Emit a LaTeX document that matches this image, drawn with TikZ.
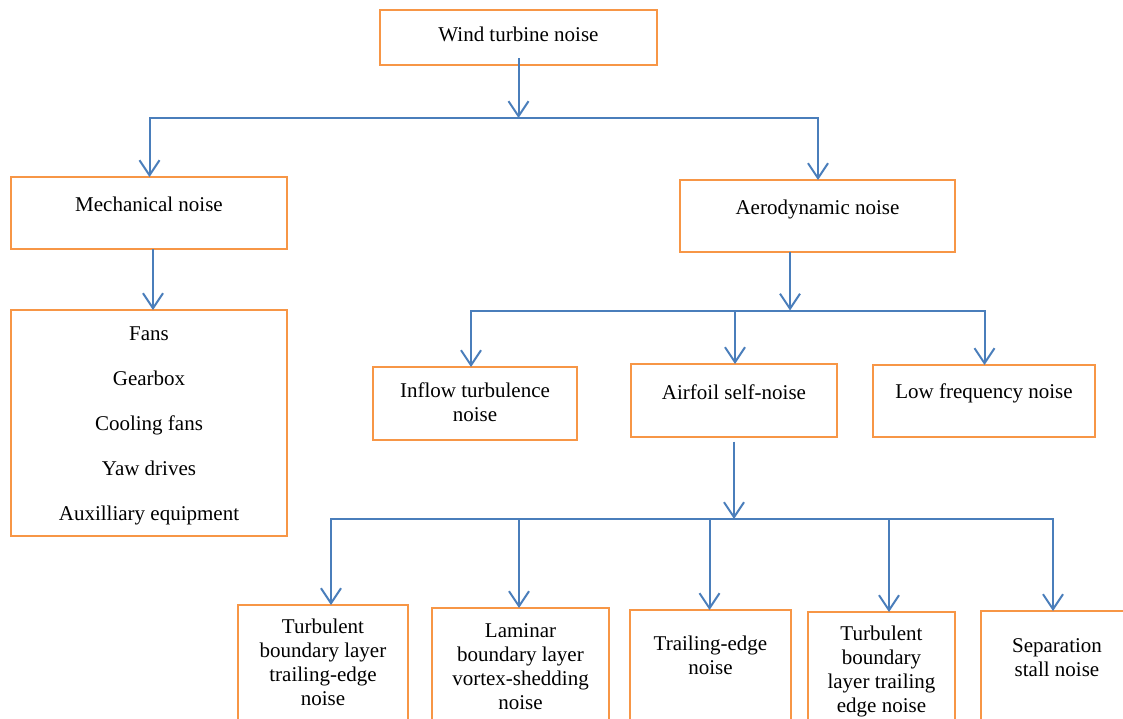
\documentclass[tikz,border=0pt]{standalone}
\usepackage{fontspec}
\setmainfont{Liberation Serif}
\usetikzlibrary{arrows.meta}
\definecolor{boxorange}{HTML}{F79646}
\definecolor{linkblue}{HTML}{4A7EBB}
\tikzset{
  box/.style={draw=boxorange, line width=2.2pt, rectangle, anchor=north west, inner sep=0pt, outer sep=0pt},
  txt/.style={anchor=base, inner sep=0pt, font=\fontsize{21}{24}\selectfont, text=black},
  bus/.style={draw=linkblue, line width=2pt, line cap=rect},
  arr/.style={draw=linkblue, line width=2pt, -{Straight Barb[length=15pt,width=20pt]}},
}
\begin{document}
\begin{tikzpicture}[x=1pt,y=-1pt]
\useasboundingbox (0,0) rectangle (1123,718);
\fill[white] (0,0) rectangle (1123,718);
\clip (0,0) rectangle (1123,718);

% boxes
\node[box, minimum width=277pt, minimum height=55pt] (wtn) at (380,10) {};
\node[box, minimum width=276pt, minimum height=72pt] (mech) at (11,177) {};
\node[box, minimum width=276pt, minimum height=226pt] (list) at (11,310) {};
\node[box, minimum width=275pt, minimum height=72pt] (aero) at (680,180) {};
\node[box, minimum width=204pt, minimum height=73pt] (inflow) at (373,367) {};
\node[box, minimum width=206pt, minimum height=73pt] (airfoil) at (631,364) {};
\node[box, minimum width=222pt, minimum height=72pt] (lowf) at (873,365) {};
\node[box, minimum width=170pt, minimum height=140pt] (b1) at (238,605) {};
\node[box, minimum width=177pt, minimum height=140pt] (b2) at (432,608) {};
\node[box, minimum width=161pt, minimum height=140pt] (b3) at (630,610) {};
\node[box, minimum width=147pt, minimum height=140pt] (b4) at (808,612) {};
\node[box, minimum width=152pt, minimum height=140pt] (b5) at (981,611) {};

% texts
\node[txt] (t-wtn) at (wtn.center |- 0,41) {Wind turbine noise};
\node[txt] (t-mech) at (mech.center |- 0,211) {Mechanical noise};
\node[txt] (t-list) at (list.center |- 0,340) {\begin{tabular}[t]{@{}c@{}}Fans\\[21pt]Gearbox\\[21pt]Cooling fans\\[21pt]Yaw drives\\[21pt]Auxilliary equipment\end{tabular}};
\node[txt] (t-aero) at (aero.center |- 0,214) {Aerodynamic noise};
\node[txt] (t-inflow) at (inflow.center |- 0,397) {\begin{tabular}[t]{@{}c@{}}Inflow turbulence\\noise\end{tabular}};
\node[txt] (t-airfoil) at (airfoil.center |- 0,399) {Airfoil self-noise};
\node[txt] (t-lowf) at (lowf.center |- 0,398) {Low frequency noise};
\node[txt] (t-b1) at (b1.center |- 0,633) {\begin{tabular}[t]{@{}c@{}}Turbulent\\boundary layer\\trailing-edge\\noise\end{tabular}};
\node[txt] (t-b2) at (b2.center |- 0,637) {\begin{tabular}[t]{@{}c@{}}Laminar\\boundary layer\\vortex-shedding\\noise\end{tabular}};
\node[txt] (t-b3) at (b3.center |- 0,650) {\begin{tabular}[t]{@{}c@{}}Trailing-edge\\noise\end{tabular}};
\node[txt] (t-b4) at (b4.center |- 0,640) {\begin{tabular}[t]{@{}c@{}}Turbulent\\boundary\\layer trailing\\edge noise\end{tabular}};
\node[txt] (t-b5) at (b5.center |- 0,652) {\begin{tabular}[t]{@{}c@{}}Separation\\stall noise\end{tabular}};

% level 1 connectors
\coordinate (bus1) at (518.5,118);
\coordinate (j-mech) at (149.5,118);
\coordinate (j-aero) at (818,118);
\draw[arr] ([yshift=7pt]wtn.south) -- (bus1);
\draw[bus] (j-mech) -- (j-aero);
\draw[arr] (j-mech) -- (j-mech |- mech.north);
\draw[arr] (j-aero) -- (j-aero |- aero.north);

% mechanical -> list
\draw[arr] ([xshift=4pt]mech.south) -- ([xshift=4pt]list.north);

% level 2 connectors
\coordinate (bus2) at (790,310.5);
\coordinate (j-in) at (471,310.5);
\coordinate (j-af) at (735,310.5);
\coordinate (j-lf) at (984.5,310.5);
\draw[arr] (bus2 |- aero.south) -- (bus2);
\draw[bus] (j-in) -- (j-lf);
\draw[arr] (j-in) -- (j-in |- inflow.north);
\draw[arr] (j-af) -- (j-af |- airfoil.north);
\draw[arr] (j-lf) -- (j-lf |- lowf.north);

% level 3 connectors
\coordinate (bus3) at (734,519);
\coordinate (j-b1) at (331,519);
\coordinate (j-b2) at (519,519);
\coordinate (j-b3) at (709.5,519);
\coordinate (j-b4) at (889,519);
\coordinate (j-b5) at (1053,519);
\draw[arr] ([yshift=-4.5pt]airfoil.south) -- (bus3);
\draw[bus] (j-b1) -- (j-b5);
\draw[arr] (j-b1) -- (j-b1 |- b1.north);
\draw[arr] (j-b2) -- (j-b2 |- b2.north);
\draw[arr] (j-b3) -- (j-b3 |- b3.north);
\draw[arr] (j-b4) -- (j-b4 |- b4.north);
\draw[arr] (j-b5) -- (j-b5 |- b5.north);
\end{tikzpicture}
\end{document}
